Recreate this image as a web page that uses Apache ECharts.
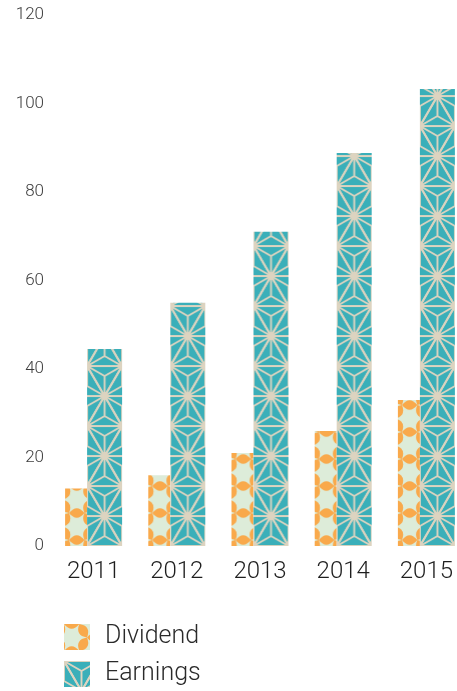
<!DOCTYPE html>
<html><head><meta charset="utf-8">
<script src="https://cdn.jsdelivr.net/npm/echarts@6/dist/echarts.min.js"></script>
<style>html,body{margin:0;padding:0;background:#fff}#c{width:457px;height:691px}</style>
</head><body><div id="c"></div>
<script>
const categories = ['2011', '2012', '2013', '2014', '2015'];
const dividend = [13, 16, 21, 26, 33];
const earnings = [44.5, 55, 71, 88.8, 103.3];
const yTicks = [0, 20, 40, 60, 80, 100, 120];
const seriesNames = ['Dividend', 'Earnings'];

const DIV_W = 22, EARN_W = 35;
const FONT = 'Roboto, "Liberation Sans", sans-serif';

function makeEarningsTile() {
  const w = 35, h = 60;
  const c = document.createElement('canvas'); c.width = w; c.height = h;
  const g = c.getContext('2d');
  g.fillStyle = '#3AAFB9'; g.fillRect(0, 0, w, h);
  const hw = w / 2, hh = h / 2;
  const tris = [
    [[0, 0], [w, 0], [hw, hh]],
    [[0, 0], [-hw, hh], [hw, hh]],
    [[w, 0], [hw, hh], [w + hw, hh]],
    [[hw, hh], [0, h], [w, h]],
    [[-hw, hh], [hw, hh], [0, h]],
    [[hw, hh], [w + hw, hh], [w, h]]
  ];
  g.strokeStyle = '#DDD4C0'; g.lineWidth = 1.9; g.lineCap = 'round';
  tris.forEach(t => {
    const cx = (t[0][0] + t[1][0] + t[2][0]) / 3, cy = (t[0][1] + t[1][1] + t[2][1]) / 3;
    g.beginPath();
    g.moveTo(t[0][0], t[0][1]); g.lineTo(t[1][0], t[1][1]); g.lineTo(t[2][0], t[2][1]); g.closePath();
    for (const p of t) { g.moveTo(cx, cy); g.lineTo(p[0], p[1]); }
    g.stroke();
  });
  g.fillStyle = '#DDD4C0';
  [[0, 0], [w, 0], [hw, hh], [0, h], [w, h]].forEach(p => {
    g.beginPath(); g.arc(p[0], p[1], 3, 0, Math.PI * 2); g.fill();
  });
  return c;
}

function makeDividendTile() {
  const w = 46, h = 27, s = w / 3;
  const c = document.createElement('canvas'); c.width = w; c.height = h;
  const g = c.getContext('2d');
  g.fillStyle = '#DDECD9'; g.fillRect(0, 0, w, h);
  const base = [
    [[0, 0], [s, 0]],
    [[s, 0], [1.5 * s, -h / 2]],
    [[s, 0], [1.5 * s, h / 2]],
    [[1.5 * s, h / 2], [2.5 * s, h / 2]],
    [[2.5 * s, h / 2], [3 * s, 0]],
    [[2.5 * s, h / 2], [3 * s, h]]
  ];
  g.fillStyle = '#F9A94B';
  const t = 4.8;
  for (let ox = -1; ox <= 1; ox++) for (let oy = -1; oy <= 1; oy++) {
    base.forEach(e => {
      const P = [e[0][0] + ox * w, e[0][1] + oy * h], Q = [e[1][0] + ox * w, e[1][1] + oy * h];
      const mx = (P[0] + Q[0]) / 2, my = (P[1] + Q[1]) / 2;
      const dx = Q[0] - P[0], dy = Q[1] - P[1], L = Math.hypot(dx, dy);
      const nx = -dy / L, ny = dx / L;
      g.beginPath();
      g.moveTo(P[0], P[1]);
      g.quadraticCurveTo(mx + nx * 2 * t, my + ny * 2 * t, Q[0], Q[1]);
      g.quadraticCurveTo(mx - nx * 2 * t, my - ny * 2 * t, P[0], P[1]);
      g.closePath(); g.fill();
    });
  }
  return c;
}

const earnTile = makeEarningsTile();
const divTile = makeDividendTile();

const chart = echarts.init(document.getElementById('c'), null, { renderer: 'canvas' });

function legendFor(name, top) {
  return {
    data: [name], left: 64, top: top, padding: 0,
    itemWidth: 26, itemHeight: 26, icon: 'rect',
    textStyle: { fontSize: 25, color: '#2a2a2a', fontFamily: FONT, fontWeight: 300, padding: [3, 0, 0, 10] }
  };
}

function buildOption(divData, earnData) {
  return {
    animation: false,
    backgroundColor: '#fff',
    grid: { left: 52, right: -11, top: 15, bottom: 145, containLabel: false, outerBoundsMode: 'none' },
    legend: [legendFor(seriesNames[0], 624), legendFor(seriesNames[1], 661)],
    xAxis: {
      type: 'category', data: categories,
      axisLine: { show: false }, axisTick: { show: false },
      axisLabel: { fontSize: 24, color: '#1e1e1e', margin: 14, fontFamily: FONT, fontWeight: 300 }
    },
    yAxis: {
      type: 'value', min: yTicks[0], max: yTicks[yTicks.length - 1], interval: yTicks[1] - yTicks[0],
      axisLine: { show: false }, axisTick: { show: false }, splitLine: { show: false },
      axisLabel: { fontSize: 17, color: '#3c3c3c', margin: 8, fontFamily: FONT, fontWeight: 300 }
    },
    series: [
      { name: seriesNames[0], type: 'bar', barWidth: DIV_W, barGap: 0,
        itemStyle: { color: { image: divTile, repeat: 'repeat' } }, data: divData },
      { name: seriesNames[1], type: 'bar', barWidth: EARN_W, barGap: 0,
        itemStyle: { color: { image: earnTile, repeat: 'repeat' } }, data: earnData }
    ]
  };
}

chart.setOption(buildOption(dividend, earnings));

// Align the patterns to each bar using the axis scales
const y0 = chart.convertToPixel({ yAxisIndex: 0 }, 0);
const divData = dividend.map((v, i) => {
  const cx = chart.convertToPixel({ xAxisIndex: 0 }, categories[i]);
  const left = cx - (DIV_W + EARN_W) / 2;
  return { value: v, itemStyle: { color: { image: divTile, repeat: 'repeat', x: left + 4, y: y0 - 6 } } };
});
const earnData = earnings.map((v, i) => {
  const cx = chart.convertToPixel({ xAxisIndex: 0 }, categories[i]);
  const left = cx - (DIV_W + EARN_W) / 2 + DIV_W;
  return { value: v, itemStyle: { color: { image: earnTile, repeat: 'repeat', x: left, y: y0 } } };
});
chart.setOption(buildOption(divData, earnData));
</script>
</body></html>
